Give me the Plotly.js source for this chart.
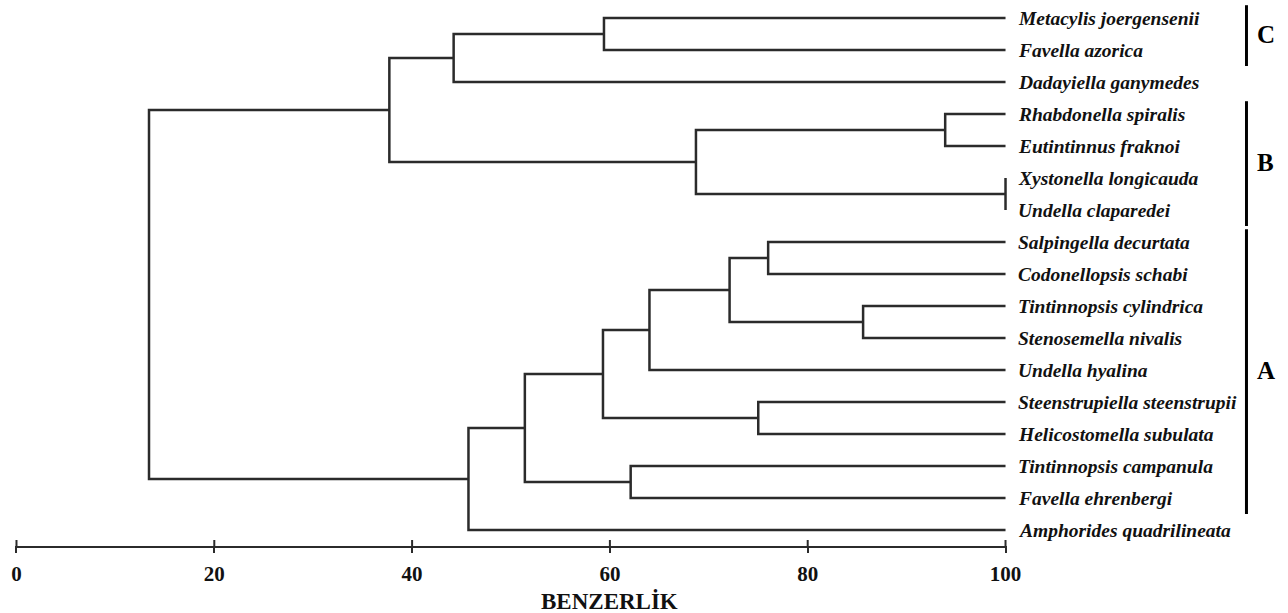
<!DOCTYPE html>
<html>
<head>
<meta charset="utf-8">
<script src="https://cdn.plot.ly/plotly-3.0.1.min.js"></script>
<style>html,body{margin:0;padding:0;background:#fff;}#chart{width:1288px;height:613px;}</style>
</head>
<body>
<div id="chart"></div>
<script>
// Leaves, top to bottom
const leafNames = [
  "Metacylis joergensenii", "Favella azorica", "Dadayiella ganymedes",
  "Rhabdonella spiralis", "Eutintinnus fraknoi", "Xystonella longicauda",
  "Undella claparedei", "Salpingella decurtata", "Codonellopsis schabi",
  "Tintinnopsis cylindrica", "Stenosemella nivalis", "Undella hyalina",
  "Steenstrupiella steenstrupii", "Helicostomella subulata",
  "Tintinnopsis campanula", "Favella ehrenbergi", "Amphorides quadrilineata"
];
// Merges: nodes numbered from 17 upward (children refer to leaf or earlier node ids)
const mergeLeft  = [0, 17, 3, 5, 19, 18, 7, 9, 23, 25, 12, 26, 14, 28, 30, 22];
const mergeRight = [1, 2, 4, 6, 20, 21, 8, 10, 24, 11, 13, 27, 15, 29, 16, 31];
const mergeSimilarity = [59.4, 44.2, 93.9, 100, 68.7, 37.7, 76.0, 85.6, 72.1, 64.0, 75.0, 59.3, 62.1, 51.4, 45.7, 13.4];
const xTicks = [0, 20, 40, 60, 80, 100];
const groupNames = ["C", "B", "A"];
const groupFirst = [0, 3, 7];
const groupLast = [1, 6, 15];

const nLeaf = leafNames.length;
const nodeX = [], nodeY = [];
for (let i = 0; i < nLeaf; i++) { nodeX.push(100); nodeY.push(i); }
const lx = [], ly = [];
for (let k = 0; k < mergeLeft.length; k++) {
  const a = mergeLeft[k], b = mergeRight[k], s = mergeSimilarity[k];
  lx.push(nodeX[a], s, s, nodeX[b], null);
  ly.push(nodeY[a], nodeY[a], nodeY[b], nodeY[b], null);
  nodeX.push(s); nodeY.push((nodeY[a] + nodeY[b]) / 2);
}

const serif = "Liberation Serif, Times New Roman, serif";
const lineColor = "#2b2b2b";

const annotations = leafNames.map((name, i) => ({
  x: 100, y: i, xref: "x", yref: "y", text: name, showarrow: false,
  xanchor: "left", yanchor: "middle", xshift: 10,
  font: {family: serif, size: 19.5, color: "#111", style: "italic", weight: "bold"}
}));
const shapes = [];
groupNames.forEach((g, i) => {
  shapes.push({type: "line", xref: "paper", yref: "y", x0: 1.2414, x1: 1.2414,
    y0: groupFirst[i] - 0.4, y1: groupLast[i] + 0.5, line: {color: "#000", width: 3}});
  annotations.push({xref: "paper", yref: "y", x: 1.2505, y: (groupFirst[i] + groupLast[i]) / 2,
    text: g, showarrow: false, xanchor: "left", yanchor: "middle",
    font: {family: serif, size: 25, color: "#000", weight: "bold"}});
});
xTicks.forEach(t => {
  shapes.push({type: "line", xref: "x", yref: "paper", ysizemode: "pixel", yanchor: 0,
    x0: t, x1: t, y0: 0, y1: 6, line: {color: lineColor, width: 2}});
});
annotations.push({xref: "x", yref: "paper", x: 60, y: 0, yshift: -55, text: "BENZERLİK",
  showarrow: false, xanchor: "center", yanchor: "middle",
  font: {family: serif, size: 23, color: "#111", weight: "bold"}});

const trace = {x: lx, y: ly, type: "scatter", mode: "lines", hoverinfo: "skip",
  line: {color: lineColor, width: 2.5}, showlegend: false, cliponaxis: false};

const layout = {
  width: 1288, height: 613,
  margin: {l: 14.5, r: 280.5, t: 2, b: 67},
  paper_bgcolor: "#fff", plot_bgcolor: "#fff",
  xaxis: {range: [-0.15, 100.15], tickvals: xTicks, ticktext: xTicks.map(String),
    showgrid: false, zeroline: false, showline: true, linecolor: lineColor, linewidth: 2,
    ticks: "outside", ticklen: 5, tickwidth: 2, tickcolor: lineColor, ticklabelstandoff: 3,
    tickfont: {family: serif, size: 21, color: "#111", weight: "bold"}},
  yaxis: {range: [16.5, -0.5], visible: false, showgrid: false, zeroline: false},
  annotations: annotations, shapes: shapes, showlegend: false
};
Plotly.newPlot("chart", [trace], layout, {displayModeBar: false, staticPlot: true});
</script>
</body>
</html>
